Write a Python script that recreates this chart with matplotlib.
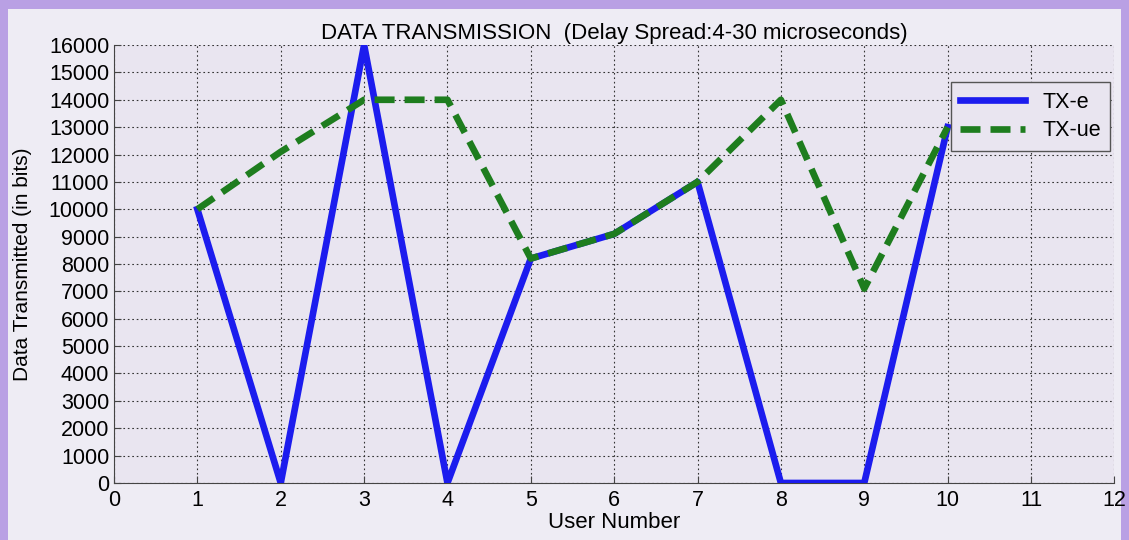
import numpy as np
import matplotlib.pyplot as plt
from matplotlib.patches import Rectangle

# data
users = [1, 2, 3, 4, 5, 6, 7, 8, 9, 10]
tx_e = [10000, 0, 16000, 0, 8200, 9100, 11000, 0, 0, 13000]
tx_ue = [10000, 12100, 14000, 14000, 8200, 9100, 11000, 14000, 7100, 13000]
x_ticks = list(range(0, 13))
y_ticks = list(range(0, 16001, 1000))

plt.rcParams['font.family'] = ['Liberation Sans', 'DejaVu Sans']

fig = plt.figure(figsize=(11.29, 5.4), dpi=100)
fig.patch.set_facecolor('#b9a0e4')
# light inner panel
fig.patches.append(Rectangle((0.007, -0.01), 0.986, 0.993, transform=fig.transFigure,
                             facecolor='#eeecf4', edgecolor='none', zorder=-1))

ax = fig.add_axes([0.101, 0.1056, 0.886, 0.811])
ax.set_zorder(2)
ax.set_facecolor('#e9e5f0')

ax.plot(users, tx_e, color='#1c1cee', linewidth=4.8, label='TX-e', zorder=3)
ax.plot(users, tx_ue, color='#1e7d1e', linewidth=4.8, linestyle=(0, (3.0, 1.5)),
        label='TX-ue', zorder=4)

ax.set_xlim(0, 12)
ax.set_ylim(0, 16000)
ax.set_xticks(x_ticks)
ax.set_yticks(y_ticks)
ax.tick_params(direction='in', labelsize=15.5, length=5, color='#444444')
ax.tick_params(axis='x', pad=5)
ax.grid(True, color='#333333', linestyle=(0, (1.5, 2.5)), linewidth=0.8)
for s in ['top', 'right']:
    ax.spines[s].set_visible(False)
for s in ['left', 'bottom']:
    ax.spines[s].set_color('#444444')

ax.set_title('DATA TRANSMISSION  (Delay Spread:4-30 microseconds)', fontsize=16, pad=4)
ax.set_xlabel('User Number', fontsize=16, labelpad=1)
ax.set_ylabel('Data Transmitted (in bits)', fontsize=15, labelpad=12)

leg = ax.legend(loc='upper right', bbox_to_anchor=(0.996, 0.916), fontsize=15.5,
                handlelength=3.0, fancybox=False, framealpha=1,
                facecolor='#e9e5f0', edgecolor='#555555', borderpad=0.45,
                labelspacing=0.35, borderaxespad=0)
leg.get_frame().set_linewidth(1.0)

fig.savefig('out.png', dpi=100, facecolor=fig.get_facecolor())
